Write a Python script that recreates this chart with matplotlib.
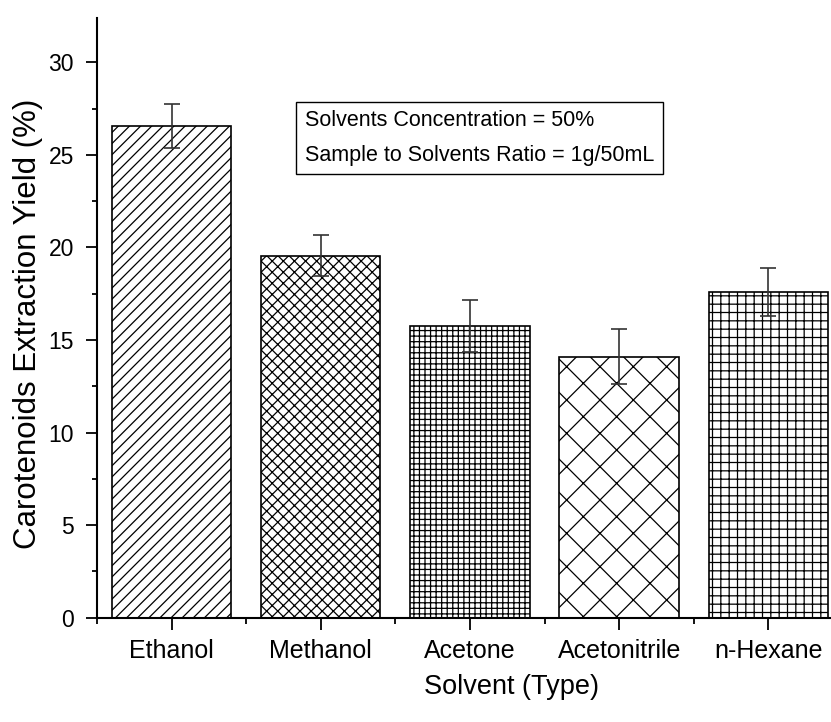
import numpy as np
import matplotlib
matplotlib.use("Agg")
import matplotlib.pyplot as plt
from matplotlib.ticker import MultipleLocator

# data
solvents = ["Ethanol", "Methanol", "Acetone", "Acetonitrile", "n-Hexane"]
yield_pct = [26.55, 19.55, 15.75, 14.1, 17.6]
yield_err = [1.2, 1.1, 1.4, 1.5, 1.3]
hatches = ["///", "xxx", "+++", "x", "++"]

plt.rcParams["font.family"] = ["Liberation Sans", "DejaVu Sans"]
plt.rcParams["hatch.linewidth"] = 0.9

fig = plt.figure(figsize=(8.31, 7.22), dpi=100)
ax = fig.add_axes([0.1167, 0.1447, 0.8833, 0.8303])

x = np.arange(len(solvents))
for xi, v, e, h in zip(x, yield_pct, yield_err, hatches):
    ax.bar(xi, v, width=0.8, color="white", edgecolor="black", linewidth=1.2, hatch=h, zorder=2)
    ax.errorbar(xi, v, yerr=e, fmt="none", ecolor="#333333", elinewidth=1.2,
                capsize=6, capthick=1.2, zorder=3)

ax.set_xlim(-0.5, 4.42)
ax.set_ylim(0, 32.4)
ax.set_xticks(x)
ax.set_xticklabels(solvents)
ax.xaxis.set_minor_locator(MultipleLocator(1, offset=0.5))
ax.yaxis.set_major_locator(MultipleLocator(5))
ax.yaxis.set_minor_locator(MultipleLocator(2.5))

for s in ["top", "right"]:
    ax.spines[s].set_visible(False)
for s in ["left", "bottom"]:
    ax.spines[s].set_linewidth(1.5)

ax.tick_params(axis="x", which="major", length=8.5, width=1.3, pad=7, labelsize=18)
ax.tick_params(axis="x", which="minor", length=4.3, width=1.3)
ax.tick_params(axis="y", which="major", length=8, width=1.3, pad=8.5, labelsize=16.5)
ax.tick_params(axis="y", which="minor", length=3.6, width=1.3)

ax.set_ylabel("Carotenoids Extraction Yield (%)", fontsize=22.5)
ax.yaxis.set_label_coords(-0.074, 0.49)
ax.set_xlabel("Solvent (Type)", fontsize=19.5)
ax.xaxis.set_label_coords(0.565, -0.095)

fig.text(305 / 831, 1 - 138 / 722,
         "Solvents Concentration = 50%\nSample to Solvents Ratio = 1g/50mL",
         fontsize=15.5, va="center", ha="left", linespacing=1.85,
         bbox=dict(boxstyle="square,pad=0.4", fc="white", ec="black", lw=1.0))

fig.savefig("out.png", dpi=100)
